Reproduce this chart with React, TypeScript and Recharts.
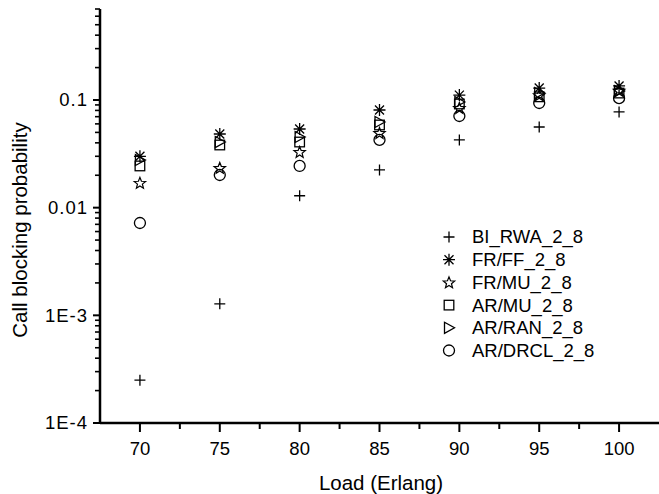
import { ScatterChart, Scatter, XAxis, YAxis, Legend } from "recharts";

const loads = [70, 75, 80, 85, 90, 95, 100];

const biRwa = [0.00025, 0.00128, 0.0129, 0.0224, 0.0426, 0.0561, 0.0774];
const frFf = [0.03, 0.0483, 0.0538, 0.0807, 0.111, 0.129, 0.135];
const frMu = [0.017, 0.0234, 0.0329, 0.0494, 0.0843, 0.111, 0.122];
const arMu = [0.0244, 0.0382, 0.0407, 0.0586, 0.0918, 0.107, 0.116];
const arRan = [0.0277, 0.0407, 0.0453, 0.0625, 0.0958, 0.116, 0.121];
const arDrcl = [0.0072, 0.0201, 0.0244, 0.0426, 0.071, 0.0938, 0.104];

const seriesNames = [
  "BI_RWA_2_8",
  "FR/FF_2_8",
  "FR/MU_2_8",
  "AR/MU_2_8",
  "AR/RAN_2_8",
  "AR/DRCL_2_8",
];

const xMajor = [70, 75, 80, 85, 90, 95, 100];
const xMinor = [72.5, 77.5, 82.5, 87.5, 92.5, 97.5];

const yMajor = [0.0001, 0.001, 0.01, 0.1];
const yMajorLabels = ["1E-4", "1E-3", "0.01", "0.1"];
const yMinor = [
  0.0002, 0.0003, 0.0004, 0.0005, 0.0006, 0.0007, 0.0008, 0.0009,
  0.002, 0.003, 0.004, 0.005, 0.006, 0.007, 0.008, 0.009,
  0.02, 0.03, 0.04, 0.05, 0.06, 0.07, 0.08, 0.09,
  0.2, 0.3, 0.4, 0.5, 0.6, 0.7,
];

const font = "'Liberation Sans', Arial, sans-serif";
const ink = "#000";

const toPoints = (vals: number[]) => vals.map((v, i) => ({ x: loads[i], y: v }));

// marker glyphs
function Plus({ cx, cy }: any) {
  return (
    <path d={`M${cx - 5.5},${cy}H${cx + 5.5}M${cx},${cy - 5.5}V${cy + 5.5}`} stroke={ink} strokeWidth={1.3} fill="none" />
  );
}

function Asterisk({ cx, cy }: any) {
  const r = 6;
  const d = r * 0.75;
  return (
    <path
      d={`M${cx - r},${cy}H${cx + r}M${cx},${cy - r}V${cy + r}M${cx - d},${cy - d}L${cx + d},${cy + d}M${cx - d},${cy + d}L${cx + d},${cy - d}`}
      stroke={ink}
      strokeWidth={1.3}
      fill="none"
    />
  );
}

function Star({ cx, cy }: any) {
  const pts: string[] = [];
  for (let i = 0; i < 10; i++) {
    const r = i % 2 === 0 ? 6 : 2.6;
    const a = -Math.PI / 2 + (i * Math.PI) / 5;
    pts.push(`${cx + r * Math.cos(a)},${cy + r * Math.sin(a) + 0.5}`);
  }
  return <polygon points={pts.join(" ")} stroke={ink} strokeWidth={1.2} fill="none" />;
}

function Square({ cx, cy }: any) {
  return <rect x={cx - 4.8} y={cy - 4.8} width={9.6} height={9.6} stroke={ink} strokeWidth={1.3} fill="none" />;
}

function Triangle({ cx, cy }: any) {
  return (
    <polygon
      points={`${cx - 4.5},${cy - 5.5} ${cx + 5.5},${cy} ${cx - 4.5},${cy + 5.5}`}
      stroke={ink}
      strokeWidth={1.3}
      fill="none"
    />
  );
}

function Circle({ cx, cy }: any) {
  return <circle cx={cx} cy={cy} r={5.5} stroke={ink} strokeWidth={1.3} fill="none" />;
}

const glyphs = [Plus, Asterisk, Star, Square, Triangle, Circle];
const seriesValues = [biRwa, frFf, frMu, arMu, arRan, arDrcl];

function XTick({ x, y, payload }: any) {
  const major = xMajor.includes(payload.value);
  return (
    <g>
      <line x1={x} x2={x} y1={y} y2={y + (major ? 9 : 6)} stroke={ink} strokeWidth={2} />
      {major && (
        <text x={x} y={y + 32} textAnchor="middle" fontSize={18.5} fontFamily={font} fill={ink}>
          {payload.value}
        </text>
      )}
    </g>
  );
}

function YTick({ x, y, payload }: any) {
  const idx = yMajor.findIndex((v) => Math.abs(v - payload.value) < payload.value * 1e-6);
  const major = idx >= 0;
  return (
    <g>
      <line x1={x} x2={x - (major ? 7 : 5)} y1={y} y2={y} stroke={ink} strokeWidth={major ? 2 : 1.6} />
      {major && (
        <text x={x - 12} y={y} dy="0.35em" textAnchor="end" fontSize={18.5} letterSpacing={1} fontFamily={font} fill={ink}>
          {yMajorLabels[idx]}
        </text>
      )}
    </g>
  );
}

const YTitle = () => (
  <text x={27} y={230} transform="rotate(-90 27 230)" textAnchor="middle" fontSize={20.5} fontFamily={font} fill={ink}>
    Call blocking probability
  </text>
);

const XTitle = () => (
  <text x={381} y={490} textAnchor="middle" fontSize={20.5} fontFamily={font} fill={ink}>
    Load (Erlang)
  </text>
);

function LegendBox() {
  return (
    <svg width={200} height={140} style={{ display: "block" }}>
      {seriesNames.map((name, i) => {
        const G = glyphs[i];
        const cy = 12 + i * 22.7;
        return (
          <g key={name}>
            <G cx={20} cy={cy} />
            <text x={43} y={cy} dy="0.35em" fontSize={18.5} fontFamily={font} fill={ink}>
              {name}
            </text>
          </g>
        );
      })}
    </svg>
  );
}

export default function App() {
  return (
    <div style={{ position: "absolute", left: 0, top: 0, background: "#fff" }}>
      <ScatterChart width={659} height={494} margin={{ top: 9, right: 0, left: 0, bottom: 0 }}>
        <XAxis
          type="number"
          dataKey="x"
          domain={[67.5, 102.5]}
          ticks={[...xMajor, ...xMinor]}
          interval={0}
          allowDataOverflow
          height={71}
          tickSize={0}
          tickMargin={0}
          tick={<XTick />}
          axisLine={{ stroke: ink, strokeWidth: 2.5 }}
          label={<XTitle />}
        />
        <YAxis
          type="number"
          dataKey="y"
          scale="log"
          domain={[0.0001, 0.7]}
          ticks={[...yMajor, ...yMinor]}
          interval={0}
          allowDataOverflow
          width={100}
          tickSize={0}
          tickMargin={0}
          tick={<YTick />}
          axisLine={{ stroke: ink, strokeWidth: 2.5 }}
          label={<YTitle />}
        />
        <Legend
          layout="vertical"
          align="center"
          verticalAlign="middle"
          content={<LegendBox />}
          wrapperStyle={{ left: 429, top: 225, width: 200, height: 140 }}
        />
        {seriesValues.map((vals, i) => (
          <Scatter
            key={seriesNames[i]}
            name={seriesNames[i]}
            data={toPoints(vals)}
            shape={glyphs[i]}
            isAnimationActive={false}
          />
        ))}
      </ScatterChart>
    </div>
  );
}
